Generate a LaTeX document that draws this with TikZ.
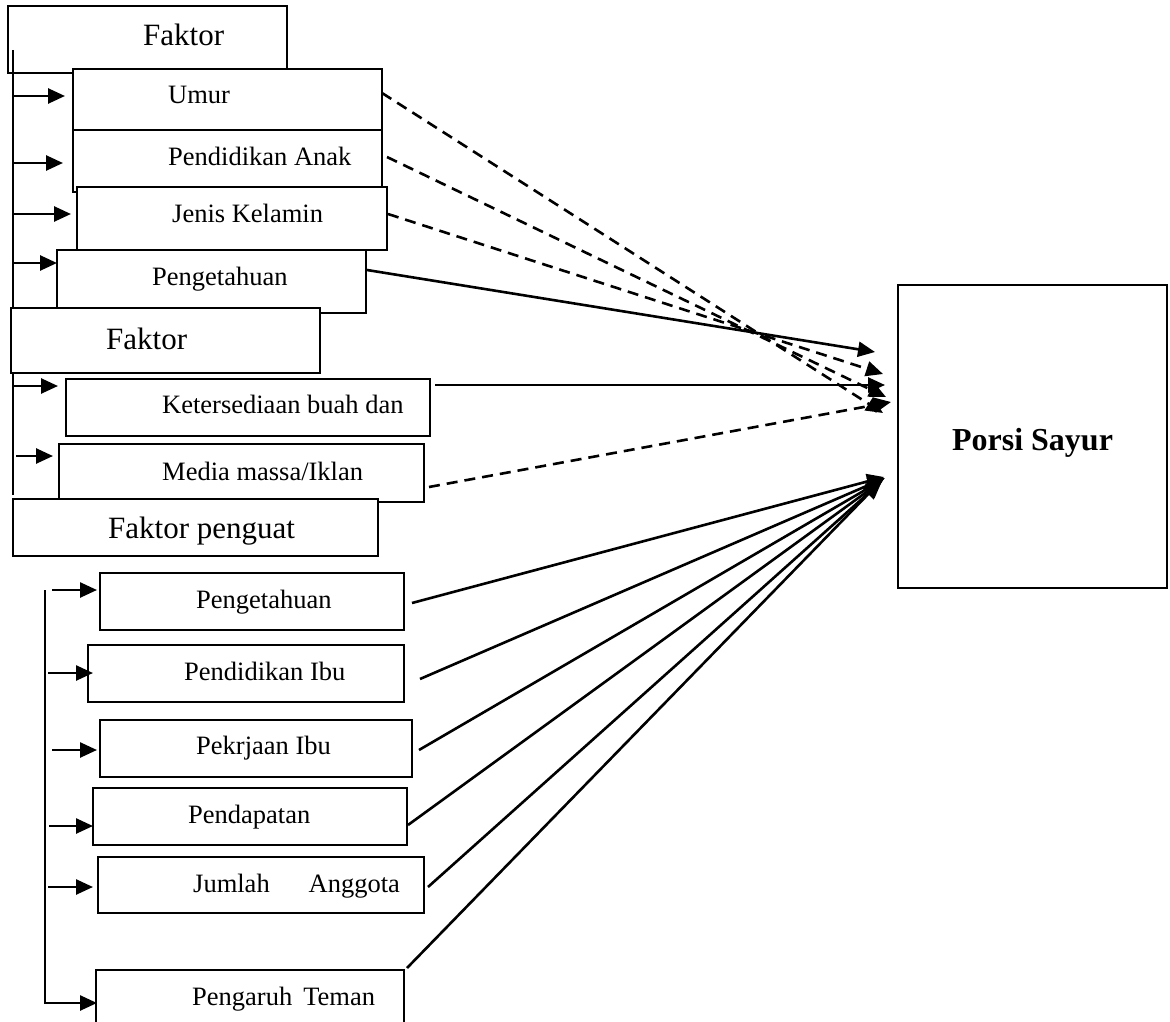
\documentclass[tikz,border=0pt]{standalone}
\usepackage{fontspec}
\setmainfont{Liberation Serif}
\usetikzlibrary{arrows.meta,fit}
\begin{document}
\begin{tikzpicture}[x=1pt,y=-1pt,
  box/.style={draw, line width=2.2pt, fill=white, inner sep=0pt, outer sep=0pt},
  small/.style={anchor=base west, inner sep=0pt, font=\fontsize{26.5}{30}\selectfont},
  big/.style={anchor=base west, inner sep=0pt, font=\fontsize{31}{36}\selectfont},
  arr/.style={line width=2.6pt, -{Triangle[length=17pt,width=15pt]}},
  dsh/.style={arr, dash pattern=on 11pt off 7pt},
  plain/.style={line width=2.4pt}]
\useasboundingbox (0,0) rectangle (1170,1022);
\clip (0,0) rectangle (1170,1022);

% ---- first group ----
\node[box, fit={(8,6) (287,73)}] (f1) {};
\node[big] (f1t) at (143,46) {Faktor};
\coordinate (busA) at (13,50);
\coordinate (busAend) at (13,495);
\draw[plain] (busA) -- (busAend);

\node[box, fit={(73,69) (382,130)}] (umur) {};
\node[small] (umurt) at (168,104) {Umur};
\node[box, fit={(73,130) (382,192)}] (pa) {};
\node[small] (pat) at (168,165) {Pendidikan Anak};
\node[box, fit={(77,187) (387,250)}] (jk) {};
\node[small] (jkt) at (172,222) {Jenis Kelamin};
\node[box, fit={(57,250) (366,313)}] (p1) {};
\node[small] (p1t) at (152,285) {Pengetahuan};
\node[box, fit={(11,308) (320,373)}] (f2) {};
\node[big] (f2t) at (106,349) {Faktor};
\node[box, fit={(66,379) (430,436)}] (ket) {};
\node[small] (kett) at (162,413) {Ketersediaan buah dan};
\node[box, fit={(59,444) (424,502)}] (med) {};
\node[small] (medt) at (162,480) {Media massa/Iklan};
\node[box, fit={(13,499) (378,556)}] (f3) {};
\node[big] (f3t) at (108,538) {Faktor penguat};

\coordinate (umurIn) at ([xshift=-8pt,yshift=3.5pt]umur.west);
\coordinate (paIn) at ([xshift=-10pt,yshift=-2pt]pa.west);
\coordinate (jkIn) at ([xshift=-6pt,yshift=4.5pt]jk.west);
\coordinate (p1In) at ([yshift=18.5pt]p1.west);
\coordinate (ketIn) at ([xshift=-8pt,yshift=21.5pt]ket.west);
\coordinate (medIn) at ([xshift=-6pt,yshift=17pt]med.west);
\draw[arr] (busA |- umurIn) -- (umurIn);
\draw[arr] (busA |- paIn) -- (paIn);
\draw[arr] (busA |- jkIn) -- (jkIn);
\draw[arr] (busA |- p1In) -- (p1In);
\draw[arr] (busA |- ketIn) -- (ketIn);
\draw[arr] ([xshift=3pt]busA |- medIn) -- (medIn);

% ---- second group ----
\node[box, fit={(100,573) (404,630)}] (p2) {};
\node[small] (p2t) at (196,608) {Pengetahuan};
\node[box, fit={(88,645) (404,702)}] (pib) {};
\node[small] (pibt) at (184,680) {Pendidikan Ibu};
\node[box, fit={(100,720) (412,777)}] (pek) {};
\node[small] (pekt) at (196,754) {Pekrjaan Ibu};
\node[box, fit={(93,788) (407,845)}] (pdp) {};
\node[small] (pdpt) at (188,823) {Pendapatan};
\node[box, fit={(98,857) (424,913)}] (jml) {};
\node[small] (jmlt) at (193,892) {Jumlah\hspace{39pt}Anggota};
\node[box, fit={(96,970) (404,1045)}] (pgt) {};
\node[small] (pgtt) at (192,1005) {Pengaruh\hspace{11pt}Teman};

\coordinate (busB) at (45,590);
\coordinate (p2In) at ([xshift=-3pt,yshift=11.5pt]p2.west);
\coordinate (pibIn) at ([xshift=5pt,yshift=0.5pt]pib.west);
\coordinate (pekIn) at ([xshift=-3pt,yshift=-1.5pt]pek.west);
\coordinate (pdpIn) at ([yshift=-9.5pt]pdp.west);
\coordinate (jmlIn) at ([xshift=-5pt,yshift=-2pt]jml.west);
\coordinate (pgtIn) at ([xshift=1pt,yshift=4.5pt]pgt.west);
\draw[arr] ([xshift=7pt]busB |- p2In) -- (p2In);
\draw[arr] ([xshift=3pt]busB |- pibIn) -- (pibIn);
\draw[arr] ([xshift=7pt]busB |- pekIn) -- (pekIn);
\draw[arr] ([xshift=4pt]busB |- pdpIn) -- (pdpIn);
\draw[arr] ([xshift=3pt]busB |- jmlIn) -- (jmlIn);
\draw[arr] (busB) |- (pgtIn);

% ---- outcome ----
\node[box, fit={(898,285) (1167,588)}] (porsi) {};
\node[anchor=base, inner sep=0pt, font=\bfseries\fontsize{32}{36}\selectfont] (porsit)
  at ([yshift=-13.5pt]porsi.center) {Porsi Sayur};

\coordinate (tUmur) at ([xshift=-15pt,yshift=23.5pt]porsi.west);
\coordinate (tPA) at ([xshift=-12pt,yshift=39.5pt]porsi.west);
\coordinate (tJK) at ([xshift=-15pt,yshift=62.5pt]porsi.west);
\coordinate (tP1) at ([xshift=-23pt,yshift=84.5pt]porsi.west);
\coordinate (tKet) at ([xshift=-13pt,yshift=51.5pt]porsi.west);
\coordinate (tMed) at ([xshift=-7pt,yshift=34.5pt]porsi.west);
\coordinate (tB1) at ([xshift=-14pt,yshift=-40.5pt]porsi.west);
\coordinate (tB2) at ([xshift=-13pt,yshift=-41.5pt]porsi.west);
\coordinate (tB3) at ([xshift=-14pt,yshift=-42.5pt]porsi.west);
\coordinate (tB4) at ([xshift=-15pt,yshift=-43.5pt]porsi.west);
\coordinate (tB5) at ([xshift=-16pt,yshift=-44.5pt]porsi.west);
\coordinate (tB6) at ([xshift=-18pt,yshift=-45.5pt]porsi.west);

\draw[dsh] ([yshift=6.5pt]umur.east) -- (tUmur);
\draw[dsh] ([xshift=5pt,yshift=4pt]pa.east) -- (tPA);
\draw[dsh] ([xshift=1pt,yshift=4.5pt]jk.east) -- (tJK);
\draw[arr] ([xshift=1pt,yshift=11.5pt]p1.east) -- (tP1);
\draw[arr] ([xshift=5pt,yshift=22.5pt]ket.east) -- (tKet);
\draw[dsh] ([xshift=5pt,yshift=-14pt]med.east) -- (tMed);

\draw[arr] ([xshift=8pt,yshift=-1.5pt]p2.east) -- (tB1);
\draw[arr] ([xshift=16pt,yshift=-5.5pt]pib.east) -- (tB2);
\draw[arr] ([xshift=7pt,yshift=-1.5pt]pek.east) -- (tB3);
\draw[arr] ([xshift=1pt,yshift=-8.5pt]pdp.east) -- (tB4);
\draw[arr] ([xshift=4pt,yshift=-2pt]jml.east) -- (tB5);
\draw[arr] ([xshift=3pt,yshift=2pt]pgt.north east) -- (tB6);
\end{tikzpicture}
\end{document}
